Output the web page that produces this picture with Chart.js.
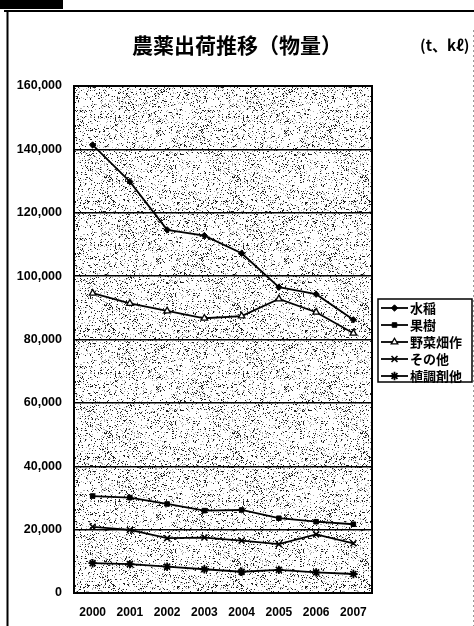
<!DOCTYPE html>
<html lang="ja">
<head>
<meta charset="utf-8">
<script src="https://cdn.jsdelivr.net/npm/chart.js@4/dist/chart.umd.min.js"></script>
<style>
  html, body { margin: 0; padding: 0; background: #fff; }
  #wrap { position: relative; width: 474px; height: 626px; }
</style>
</head>
<body>
<div id="wrap"><canvas id="c" width="474" height="626"></canvas></div>
<script>
// 農薬出荷推移（物量） 単位: t、kℓ
const years = ['2000', '2001', '2002', '2003', '2004', '2005', '2006', '2007'];
const suito    = [141400, 129800, 114600, 112800, 107200, 96500, 94300, 86200]; // 水稲
const kaju     = [30600, 30100, 28100, 26000, 26200, 23600, 22500, 21700];      // 果樹
const yasai    = [94600, 91400, 89000, 86700, 87400, 92800, 88600, 82000];      // 野菜畑作
const sonota   = [20900, 19900, 17300, 17500, 16500, 15400, 18500, 15700];      // その他
const shokucho = [9400, 9100, 8300, 7500, 6700, 7300, 6500, 6000];              // 植調剤他
const yTicks = [0, 20000, 40000, 60000, 80000, 100000, 120000, 140000, 160000];

const LATIN = '"Liberation Sans", Arial, sans-serif';
const CJK = '"Noto Sans CJK JP", sans-serif';

function series(label, data, style, radius, fill, bw) {
  return {
    label, data,
    borderColor: '#000', borderWidth: 1.8,
    pointStyle: style, pointRadius: radius, pointHoverRadius: radius,
    pointBackgroundColor: fill, pointBorderColor: '#000', pointBorderWidth: bw,
    tension: 0, fill: false
  };
}

const datasets = [
  series('水稲', suito, 'rectRot', 3.2, '#000', 1),
  series('果樹', kaju, 'rect', 3.2, '#000', 1),
  series('野菜畑作', yasai, 'triangle', 3.8, '#fff', 1.3),
  series('その他', sonota, 'crossRot', 4.2, '#000', 1.6),
  series('植調剤他', shokucho, 'star', 4.2, '#000', 1.8)
];

// stippled plot background (deterministic hash noise)
function makeStipple() {
  const n = 128;
  const c = document.createElement('canvas');
  c.width = n; c.height = n;
  const g = c.getContext('2d');
  const img = g.createImageData(n, n);
  const hash = (x, y, s) => {
    let h = (x * 374761393 + y * 668265263 + s * 982451653) | 0;
    h = Math.imul(h ^ (h >>> 13), 1274126177);
    h = (h ^ (h >>> 16)) >>> 0;
    return h / 4294967295;
  };
  for (let y = 0; y < n; y++) {
    for (let x = 0; x < n; x++) {
      // coarse cells vary the local density a little
      const d = 0.05 + 0.09 * hash(x >> 3, y >> 2, 7);
      const v = hash(x, y, 1);
      let col = 255;
      if (v < d) col = 30;
      else if (v < d + 0.08) col = 175;
      const i = (y * n + x) * 4;
      img.data[i] = img.data[i + 1] = img.data[i + 2] = col;
      img.data[i + 3] = 255;
    }
  }
  g.putImageData(img, 0, 0);
  return c;
}
const stipple = makeStipple();

const decor = {
  id: 'decor',
  beforeDraw(chart) {
    const { ctx, chartArea: a } = chart;
    ctx.save();
    ctx.fillStyle = ctx.createPattern(stipple, 'repeat');
    ctx.fillRect(a.left, a.top, a.right - a.left, a.bottom - a.top);
    ctx.restore();
  },
  afterDraw(chart) {
    const { ctx, chartArea: a } = chart;
    ctx.save();
    // page frame
    ctx.fillStyle = '#000';
    ctx.fillRect(0, 0, 63, 9);
    ctx.strokeStyle = '#000';
    ctx.lineWidth = 2;
    ctx.beginPath();
    ctx.moveTo(4, 11); ctx.lineTo(474, 11);
    ctx.moveTo(7.5, 11); ctx.lineTo(7.5, 626);
    ctx.stroke();
    ctx.strokeStyle = '#999';
    ctx.lineWidth = 1;
    ctx.setLineDash([2, 3]);
    ctx.beginPath();
    ctx.moveTo(473.5, 30); ctx.lineTo(473.5, 626);
    ctx.stroke();
    ctx.setLineDash([]);

    // plot border
    ctx.strokeStyle = '#000';
    ctx.lineWidth = 2;
    ctx.strokeRect(a.left, a.top, a.right - a.left, a.bottom - a.top);

    // title and unit
    ctx.fillStyle = '#000';
    ctx.textBaseline = 'middle';
    ctx.textAlign = 'center';
    ctx.font = 'bold 21px ' + CJK;
    ctx.fillText('農薬出荷推移（物量）', 237, 45);
    ctx.textAlign = 'left';
    ctx.font = 'bold 15px ' + CJK;
    ctx.fillText('(t、kℓ)', 420, 45);

    // legend
    const lx = 378, ly = 299, lw = 94, lh = 83;
    ctx.fillStyle = '#fff';
    ctx.fillRect(lx, ly, lw, lh);
    ctx.lineWidth = 1.5;
    ctx.strokeRect(lx, ly, lw, lh);
    const rows = [308, 325, 342, 359, 376];
    chart.data.datasets.forEach((ds, i) => {
      const y = rows[i];
      ctx.strokeStyle = '#000';
      ctx.lineWidth = 1.8;
      ctx.beginPath();
      ctx.moveTo(381, y); ctx.lineTo(408, y);
      ctx.stroke();
      ctx.fillStyle = ds.pointBackgroundColor;
      ctx.strokeStyle = '#000';
      ctx.lineWidth = ds.pointBorderWidth;
      Chart.helpers.drawPoint(ctx, { pointStyle: ds.pointStyle, radius: ds.pointRadius, borderWidth: ds.pointBorderWidth, rotation: 0 }, 394.5, y);
      ctx.fillStyle = '#000';
      ctx.font = 'bold 13px ' + CJK;
      ctx.textAlign = 'left';
      ctx.textBaseline = 'middle';
      ctx.fillText(ds.label, 410, y + 0.5);
    });
    ctx.restore();
  }
};

new Chart(document.getElementById('c'), {
  type: 'line',
  data: { labels: years, datasets },
  options: {
    responsive: false,
    animation: false,
    events: [],
    layout: { padding: { top: 86, right: 102, bottom: 0, left: 0 } },
    plugins: { legend: { display: false }, title: { display: false }, tooltip: { enabled: false } },
    scales: {
      x: {
        offset: true,
        grid: { display: false, drawTicks: false },
        border: { display: false },
        ticks: { color: '#000', padding: 12, maxRotation: 0, autoSkip: false,
                 font: { family: LATIN, size: 12, weight: 'bold' } },
        afterFit(s) { s.height = 33; }
      },
      y: {
        min: 0, max: 160000,
        afterBuildTicks(s) { s.ticks = yTicks.map(v => ({ value: v })); },
        grid: { color: '#000', lineWidth: 1.5, drawTicks: false },
        border: { display: false },
        ticks: { color: '#000', padding: 12,
                 font: { family: LATIN, size: 12.5, weight: 'bold' },
                 callback: v => Number(v).toLocaleString('en-US') },
        afterFit(s) { s.width = 74; }
      }
    }
  },
  plugins: [decor]
});
</script>
</body>
</html>
